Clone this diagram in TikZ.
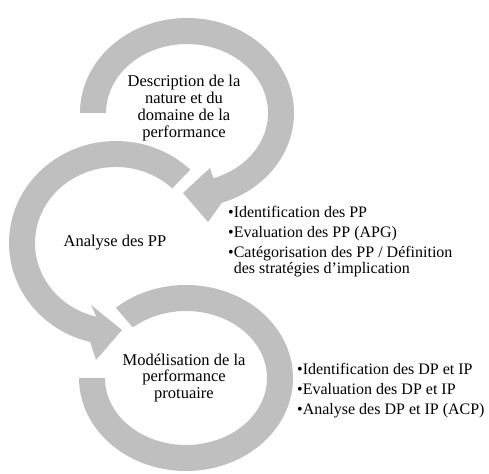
\documentclass[tikz,border=0pt]{standalone}
\usepackage{fontspec}
\setmainfont{Liberation Serif}
\usetikzlibrary{calc}
\definecolor{ringgray}{RGB}{191,191,191}

\begin{document}
\begin{tikzpicture}[x=1pt,y=1pt,
 ring/.style={fill=ringgray},
 stage/.style={align=center,inner sep=0,font=\fontsize{16.5}{16.7}\selectfont},
 bullets/.style={align=left,anchor=north west,inner sep=0,font=\fontsize{16}{16}\selectfont}]
\useasboundingbox (0,0) rectangle (489,473);
\fill[ring,shift={(187,360)}] (180:107 and 95) arc[start angle=180,end angle=-71,x radius=107,y radius=95]
 -- (21,-109) -- (-4,-80) -- (23,-55) -- (-71:81 and 69) arc[start angle=-71,end angle=180,x radius=81,y radius=69] -- cycle;
\fill[ring,shift={(116,230)}] (46:107 and 102) arc[start angle=46,end angle=256,x radius=107,y radius=102]
 -- (-20,-117) -- (6,-87) -- (-25,-62) -- (256:81 and 76) arc[start angle=256,end angle=46,x radius=81,y radius=76] -- cycle;
\fill[ring,shift={(186,95)}] (131:107 and 93) arc[start angle=131,end angle=-180,x radius=107,y radius=93]
 -- (-180:81 and 67) arc[start angle=-180,end angle=131,x radius=81,y radius=67] -- cycle;
\node[stage] (desc) at (184,365) {Description de la\\nature et du\\domaine de la\\performance};
\node[stage] (analyse) at (115,230) {Analyse des PP};
\node[stage] (model) at (184,95) {Modélisation de la\\performance\\protuaire};
\node[bullets] (listpp) at (228,267) {•Identification des PP\\[4pt]•Evaluation des PP (APG)\\[4pt]•Catégorisation des PP / Définition\\\phantom{•}des stratégies d’implication};
\node[bullets] (listdp) at (297,110) {•Identification des DP et IP\\[4pt]•Evaluation des DP et IP\\[4pt]•Analyse des DP et IP (ACP)};
\end{tikzpicture}
\end{document}
